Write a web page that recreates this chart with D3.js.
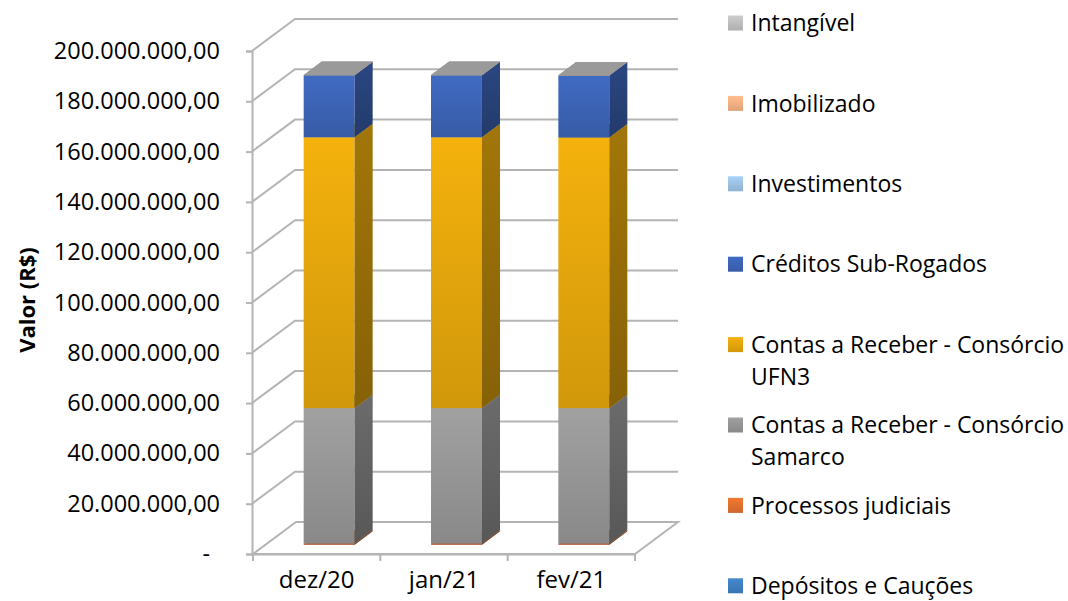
<!DOCTYPE html>
<html>
<head>
<meta charset="utf-8">
<script src="https://cdn.jsdelivr.net/npm/d3@7"></script>
<style>
  body { margin: 0; background: #fff; }
  text { font-family: "Open Sans", sans-serif; fill: #000; }
</style>
</head>
<body>
<div id="chart-area"></div>
<script>
const W = 1068, H = 601

// data (stack order, bottom to top)
const categories = ["dez/20", "jan/21", "fev/21"]
const seriesNames = [
  "Depósitos e Cauções",
  "Processos judiciais",
  "Contas a Receber - Consórcio Samarco",
  "Contas a Receber - Consórcio UFN3",
  "Créditos Sub-Rogados",
  "Investimentos",
  "Imobilizado",
  "Intangível"
]
const depositos = [0, 0, 0]
const processos = [500000, 500000, 500000]
const samarco = [53800000, 53800000, 53800000]
const ufn3 = [107700000, 107700000, 107600000]
const creditos = [24700000, 24700000, 24700000]
const investimentos = [0, 0, 0]
const imobilizado = [0, 0, 0]
const intangivel = [0, 0, 0]
const yTicks = [0, 20e6, 40e6, 60e6, 80e6, 100e6, 120e6, 140e6, 160e6, 180e6, 200e6]
const seriesColors = ["#3f7fc1", "#e2702e", "#969696", "#e4a60c", "#3c64b6", "#9dc3e6", "#f4b183", "#bfbfbf"]

const values = [depositos, processos, samarco, ufn3, creditos, investimentos, imobilizado, intangivel]

// 3d depth offsets
const DX = 43, DY = 32
const Z_FRONT = 0.29, Z_BACK = 0.71

const svg = d3.select("#chart-area").append("svg")
  .attr("width", W)
  .attr("height", H)

const defs = svg.append("defs")

// scales
const x = d3.scaleBand().domain(categories).range([253, 635])
const y = d3.scaleLinear().domain([0, 200e6]).range([554, 51])

const proj = (xv, v, z) => [xv + z * DX, y(v) - z * DY]

// gradients per series
seriesColors.forEach((c, i) => {
  const base = d3.color(c)
  const fg = defs.append("linearGradient").attr("id", "front" + i)
    .attr("x1", 0).attr("y1", 0).attr("x2", 0).attr("y2", 1)
  fg.append("stop").attr("offset", "0%").attr("stop-color", base.brighter(0.2))
  fg.append("stop").attr("offset", "45%").attr("stop-color", base)
  fg.append("stop").attr("offset", "100%").attr("stop-color", base.darker(0.25))
  const sg = defs.append("linearGradient").attr("id", "side" + i)
    .attr("x1", 0).attr("y1", 0).attr("x2", 0).attr("y2", 1)
  sg.append("stop").attr("offset", "0%").attr("stop-color", base.darker(0.95))
  sg.append("stop").attr("offset", "100%").attr("stop-color", base.darker(1.5))
})

const GRID = "#b4b4b4"

// grid lines (left wall + back wall)
const grid = svg.append("g").attr("fill", "none").attr("stroke", GRID).attr("stroke-width", 2)
yTicks.filter(d => d > 0).forEach(v => {
  const p0 = proj(252, v, 0), p1 = proj(252, v, 1), p2 = proj(635, v, 1)
  grid.append("path").attr("d", `M${p0}L${p1}L${p2}`)
})

// floor
const f = [proj(253, 0, 0), proj(635, 0, 0), proj(635, 0, 1), proj(253, 0, 1)]
grid.append("path").attr("d", `M${f[0]}L${f[1]}L${f[2]}L${f[3]}Z`)

// bars
const bw = x.bandwidth() * 0.4
categories.forEach((cat, ci) => {
  const xl = x(cat) + (x.bandwidth() - bw) / 2
  const xr = xl + bw
  const gb = svg.append("g")
  let acc = 0
  values.forEach((arr, si) => {
    const v0 = acc, v1 = acc + arr[ci]
    acc = v1
    const a = proj(xl, v1, Z_FRONT), b = proj(xr, v0, Z_FRONT)
    if (v1 > v0) {
      gb.append("rect")
        .attr("x", a[0]).attr("y", a[1])
        .attr("width", b[0] - a[0]).attr("height", b[1] - a[1])
        .attr("fill", `url(#front${si})`)
      const s = [proj(xr, v0, Z_FRONT), proj(xr, v0, Z_BACK), proj(xr, v1, Z_BACK), proj(xr, v1, Z_FRONT)]
      gb.append("path").attr("d", `M${s[0]}L${s[1]}L${s[2]}L${s[3]}Z`)
        .attr("fill", `url(#side${si})`)
    }
    const t = [proj(xl, v1, Z_FRONT), proj(xr, v1, Z_FRONT), proj(xr, v1, Z_BACK), proj(xl, v1, Z_BACK)]
    gb.append("path").attr("d", `M${t[0]}L${t[1]}L${t[2]}L${t[3]}Z`)
      .attr("fill", d3.color(seriesColors[si]).darker(0.6))
  })
})

// y axis
const br = d3.formatLocale({ decimal: ",", thousands: ".", grouping: [3], currency: ["R$", ""] })
const fmt = br.format(",.2f")
const yAxis = svg.append("g")
  .attr("transform", "translate(252,0)")
  .call(d3.axisLeft(y).tickValues(yTicks).tickSize(6).tickPadding(26)
    .tickFormat(d => d === 0 ? "-" : fmt(d)))
yAxis.select(".domain").attr("stroke", GRID).attr("stroke-width", 2)
yAxis.selectAll(".tick line").attr("stroke", GRID).attr("stroke-width", 2)
yAxis.selectAll(".tick text").attr("font-size", 23.5).attr("font-family", "Open Sans")
yAxis.selectAll(".tick text").filter(d => d === 0).attr("x", -42)

// x axis
const xAxis = svg.append("g")
  .attr("transform", "translate(0,554)")
  .call(d3.axisBottom(x).tickSize(0).tickPadding(17))
xAxis.select(".domain").attr("stroke", GRID).attr("stroke-width", 2)
xAxis.selectAll(".tick text").attr("font-size", 24).attr("font-family", "Open Sans")
const bounds = categories.map(c => x(c)).concat([x.range()[1]])
xAxis.selectAll(".bound").data(bounds).join("line")
  .attr("x1", d => d).attr("x2", d => d)
  .attr("y1", 0).attr("y2", 7)
  .attr("stroke", GRID).attr("stroke-width", 2)

// axis title
svg.append("text")
  .attr("transform", "translate(35,300) rotate(-90)")
  .attr("text-anchor", "middle")
  .attr("font-size", 22)
  .attr("font-weight", "bold")
  .text("Valor (R$)")

// legend (reverse order)
const legend = svg.append("g")
const legendOrder = d3.range(seriesNames.length).reverse()
legendOrder.forEach((si, k) => {
  const cy = 23 + k * 80.4
  legend.append("rect")
    .attr("x", 728).attr("y", cy - 7.5)
    .attr("width", 15).attr("height", 15)
    .attr("fill", `url(#front${si})`)
  const name = seriesNames[si]
  const words = name.split(" ")
  const txt = legend.append("text")
    .attr("x", 751).attr("y", cy)
    .attr("dy", "0.36em")
    .attr("font-size", 23)
  let line = []
  let tspan = txt.append("tspan").attr("x", 751)
  words.forEach(w => {
    line.push(w)
    tspan.text(line.join(" "))
    if (tspan.node().getComputedTextLength() > 316 && line.length > 1) {
      line.pop()
      tspan.text(line.join(" "))
      line = [w]
      tspan = txt.append("tspan").attr("x", 751).attr("dy", 32).text(w)
    }
  })
})
</script>
</body>
</html>
